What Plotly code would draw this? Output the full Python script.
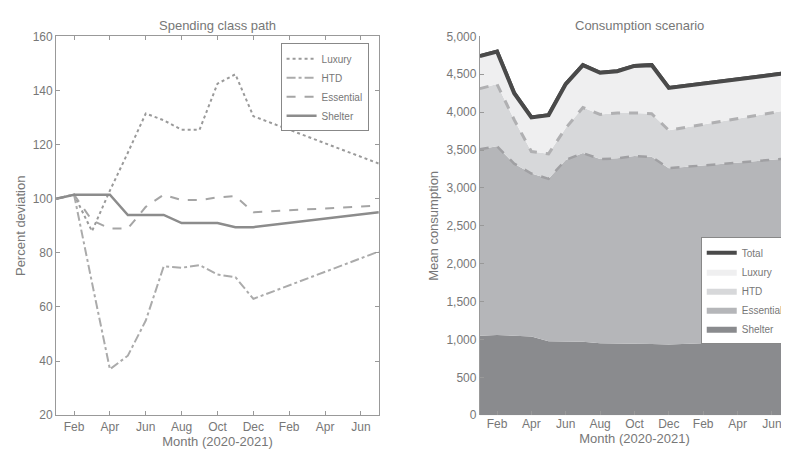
import plotly.graph_objects as go

months = [0, 1, 2, 3, 4, 5, 6, 7, 8, 9, 10, 11, 18]
tick_vals = [1, 3, 5, 7, 9, 11, 13, 15, 17]
tick_text = ["Feb", "Apr", "Jun", "Aug", "Oct", "Dec", "Feb", "Apr", "Jun"]

luxury_pct = [100, 101.5, 88, 103, 117, 131.5, 129, 125.5, 125.5, 142.5, 146, 130.5, 113]
htd_pct = [100, 101.5, 69, 37, 42, 55, 75, 74.5, 75.5, 72, 71, 63, 80.5]
essential_pct = [100, 101.5, 92, 89, 89, 97, 101.5, 99.5, 99.5, 100.5, 101, 95, 97.5]
shelter_pct = [100, 101.5, 101.5, 101.5, 94, 94, 94, 91, 91, 91, 89.5, 89.5, 95]

shelter_lvl = [1050, 1060, 1050, 1040, 975, 975, 970, 950, 950, 950, 940, 935, 990]
essential_top = [3510, 3550, 3320, 3190, 3120, 3370, 3460, 3380, 3390, 3420, 3410, 3260, 3390]
htd_top = [4310, 4370, 3900, 3480, 3450, 3790, 4060, 3970, 3990, 3990, 3980, 3760, 4030]
total = [4740, 4800, 4250, 3930, 3960, 4370, 4620, 4520, 4540, 4610, 4620, 4320, 4520]

essential_lvl = [e - s for e, s in zip(essential_top, shelter_lvl)]
htd_lvl = [h - e for h, e in zip(htd_top, essential_top)]
luxury_lvl = [t - h for t, h in zip(total, htd_top)]

TXT = "#777777"
font = dict(family="Liberation Sans, Arial", size=12, color=TXT)
fig = go.Figure()

fig.add_trace(go.Scatter(x=months, y=luxury_pct, name="Luxury", mode="lines",
                         line=dict(color="#9a9a9a", width=2, dash="dot"), xaxis="x", yaxis="y", legend="legend"))
fig.add_trace(go.Scatter(x=months, y=htd_pct, name="HTD", mode="lines",
                         line=dict(color="#ababab", width=2, dash="dashdot"), xaxis="x", yaxis="y", legend="legend"))
fig.add_trace(go.Scatter(x=months, y=essential_pct, name="Essential", mode="lines",
                         line=dict(color="#a5a5a5", width=2, dash="dash"), xaxis="x", yaxis="y", legend="legend"))
fig.add_trace(go.Scatter(x=months, y=shelter_pct, name="Shelter", mode="lines",
                         line=dict(color="#8c8c8c", width=2.5), xaxis="x", yaxis="y", legend="legend"))

fig.add_trace(go.Scatter(x=months, y=total, name="Total", mode="lines", legendrank=1,
                         line=dict(color="#4a4a4a", width=4), xaxis="x2", yaxis="y2", legend="legend2"))
stack = [("Luxury", luxury_lvl, "#efeff0", 2), ("HTD", htd_lvl, "#d7d8da", 3),
         ("Essential", essential_lvl, "#b5b6b9", 4), ("Shelter", shelter_lvl, "#8a8b8e", 5)]
for name, vals, col, rk in reversed(stack):
    fig.add_trace(go.Scatter(x=months, y=vals, name=name, mode="lines", stackgroup="s", legendrank=rk,
                             line=dict(width=0, color=col), fillcolor=col,
                             xaxis="x2", yaxis="y2", legend="legend2"))
fig.add_trace(go.Scatter(x=months, y=essential_top, mode="lines", showlegend=False,
                         line=dict(color="#a0a0a3", width=2.5, dash="dash"), xaxis="x2", yaxis="y2"))
fig.add_trace(go.Scatter(x=months, y=htd_top, mode="lines", showlegend=False,
                         line=dict(color="#b0b0b2", width=3, dash="dash"), xaxis="x2", yaxis="y2"))
fig.add_trace(go.Scatter(x=months, y=total, mode="lines", showlegend=False,
                         line=dict(color="#4a4a4a", width=4), xaxis="x2", yaxis="y2"))

ax = dict(showgrid=False, zeroline=False, ticks="inside", ticklen=4, tickcolor="#999",
          linecolor="#999", tickfont=font)
lg = dict(yanchor="top", bgcolor="white", bordercolor="#888", borderwidth=1,
          font=dict(size=10, color=TXT), tracegroupgap=0, itemwidth=30, traceorder="normal")
fig.update_layout(
    width=789, height=450, margin=dict(l=0, r=0, t=0, b=0),
    paper_bgcolor="white", plot_bgcolor="white", font=font,
    xaxis=dict(ax, domain=[0.061, 0.470], range=[0, 18], tickvals=tick_vals, ticktext=tick_text,
               mirror="ticks", showline=True,
               title=dict(text="Month (2020-2021)", font=dict(size=13, color=TXT), standoff=2)),
    yaxis=dict(ax, domain=[0.082, 0.951], range=[20, 160], dtick=20, mirror="ticks", showline=True,
               title=dict(text="Percent deviation", font=dict(size=13, color=TXT), standoff=4)),
    xaxis2=dict(ax, domain=[0.598, 0.99], range=[0, 18], tickvals=tick_vals, ticktext=tick_text,
                anchor="y2", showline=False,
                title=dict(text="Month (2020-2021)", font=dict(size=13, color=TXT), standoff=2)),
    yaxis2=dict(ax, domain=[0.082, 0.951], range=[0, 5000], dtick=500, tickformat=",",
                anchor="x2", showline=True,
                title=dict(text="Mean consumption", font=dict(size=13, color=TXT), standoff=4)),
    legend=dict(lg, x=0.457, xanchor="right", y=0.935),
    legend2=dict(lg, x=0.878, xanchor="left", y=0.49),
    annotations=[
        dict(text="Spending class path", x=0.2655, y=0.998, xref="paper", yref="paper", xanchor="center",
             showarrow=False, yanchor="top", font=dict(size=13, color=TXT)),
        dict(text="Consumption scenario", x=0.8, y=0.998, xref="paper", yref="paper", xanchor="center",
             showarrow=False, yanchor="top", font=dict(size=13, color=TXT)),
    ],
)
fig.write_html("out.html")
